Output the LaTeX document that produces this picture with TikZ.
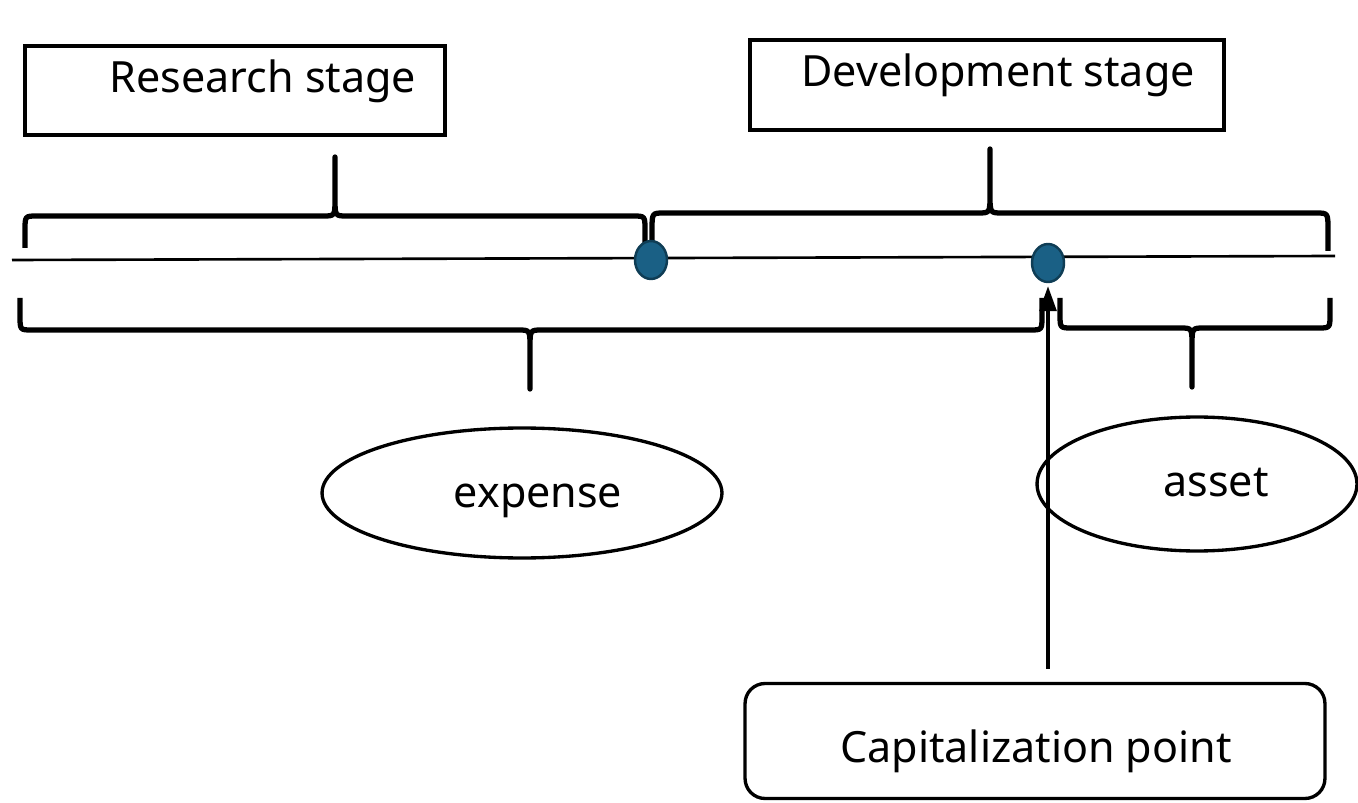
\documentclass[tikz,border=0pt]{standalone}
\usepackage{fontspec}
\setmainfont{Noto Sans}
\usetikzlibrary{shapes.geometric,arrows.meta}
\definecolor{dotfill}{HTML}{1A6085}
\definecolor{dotline}{HTML}{0F3D55}
\newcommand{\stagebrace}[6]{\draw[brace] (#1,#4) -- (#1,{#5+0.45*(#4-#5)}) .. controls (#1,#5) .. ({#1+12},#5)
    -- ({#2-12},#5) .. controls (#2,#5) .. (#2,{#5+0.3*(#6-#5)}) -- (#2,#6)
    -- (#2,{#5+0.3*(#6-#5)}) .. controls (#2,#5) .. ({#2+12},#5)
    -- ({#3-12},#5) .. controls (#3,#5) .. (#3,{#5+0.45*(#4-#5)}) -- (#3,#4);}
\begin{document}
\begin{tikzpicture}[x=0.02cm,y=-0.02cm,
                    box/.style = {draw,line width=1.9pt,inner sep=0pt},
                    oval/.style = {ellipse,draw,line width=1.9pt,inner sep=0pt},
                    dot/.style = {ellipse,draw=dotline,fill=dotfill,line width=1.4pt,minimum width=0.64cm,minimum height=0.76cm,inner sep=0pt},
                    brace/.style = {line width=3pt,line join=round},
                    txt/.style = {font=\fontsize{24.5}{28}\selectfont,inner sep=0pt,anchor=base},
                    arrow/.style = {line width=1.8pt,-{Triangle[length=0.5cm,width=0.34cm]}}]
                        \useasboundingbox (0,0) rectangle (1358,803);

                        \node[box,minimum width=8.4cm,minimum height=1.78cm] (research) at (235,90.5) {};
                        \node[txt] (researchtext) at (263,93) {Research stage};
                        \node[box,minimum width=9.48cm,minimum height=1.8cm] (development) at (987,85) {};
                        \node[txt] (developmenttext) at (998,87) {Development stage};

                        \coordinate (linestart) at (12,260);
                        \coordinate (lineend) at (1335,256);
                        \draw[line width=1.5pt] (linestart) -- (lineend);

                        \stagebrace{25}{335}{645}{248}{216}{157}
                        \stagebrace{652}{990}{1328}{251}{213}{149}
                        \stagebrace{20}{530}{1042}{298}{330}{389}
                        \stagebrace{1060}{1192}{1330}{298}{328}{387}

                        \node[dot] (devstart) at (651,260) {};
                        \node[dot] (cappoint) at (1048,263) {};

                        \node[oval,minimum width=8cm,minimum height=2.6cm] (expense) at (522,493) {};
                        \node[txt] (expensetext) at (538,507) {expense};
                        \node[oval,minimum width=6.4cm,minimum height=2.68cm] (asset) at (1197,484) {};
                        \node[txt] (assettext) at (1216,496) {asset};

                        \node[box,rounded corners=0.4cm,minimum width=11.6cm,minimum height=2.3cm] (capital) at (1035,741) {};
                        \node[txt] (capitaltext) at (1036,762) {Capitalization point};
                        \draw[arrow,shorten <=0.26cm,shorten >=0.06cm] (capital.north -| cappoint) -- (cappoint.south);
                    \end{tikzpicture}
\end{document}
